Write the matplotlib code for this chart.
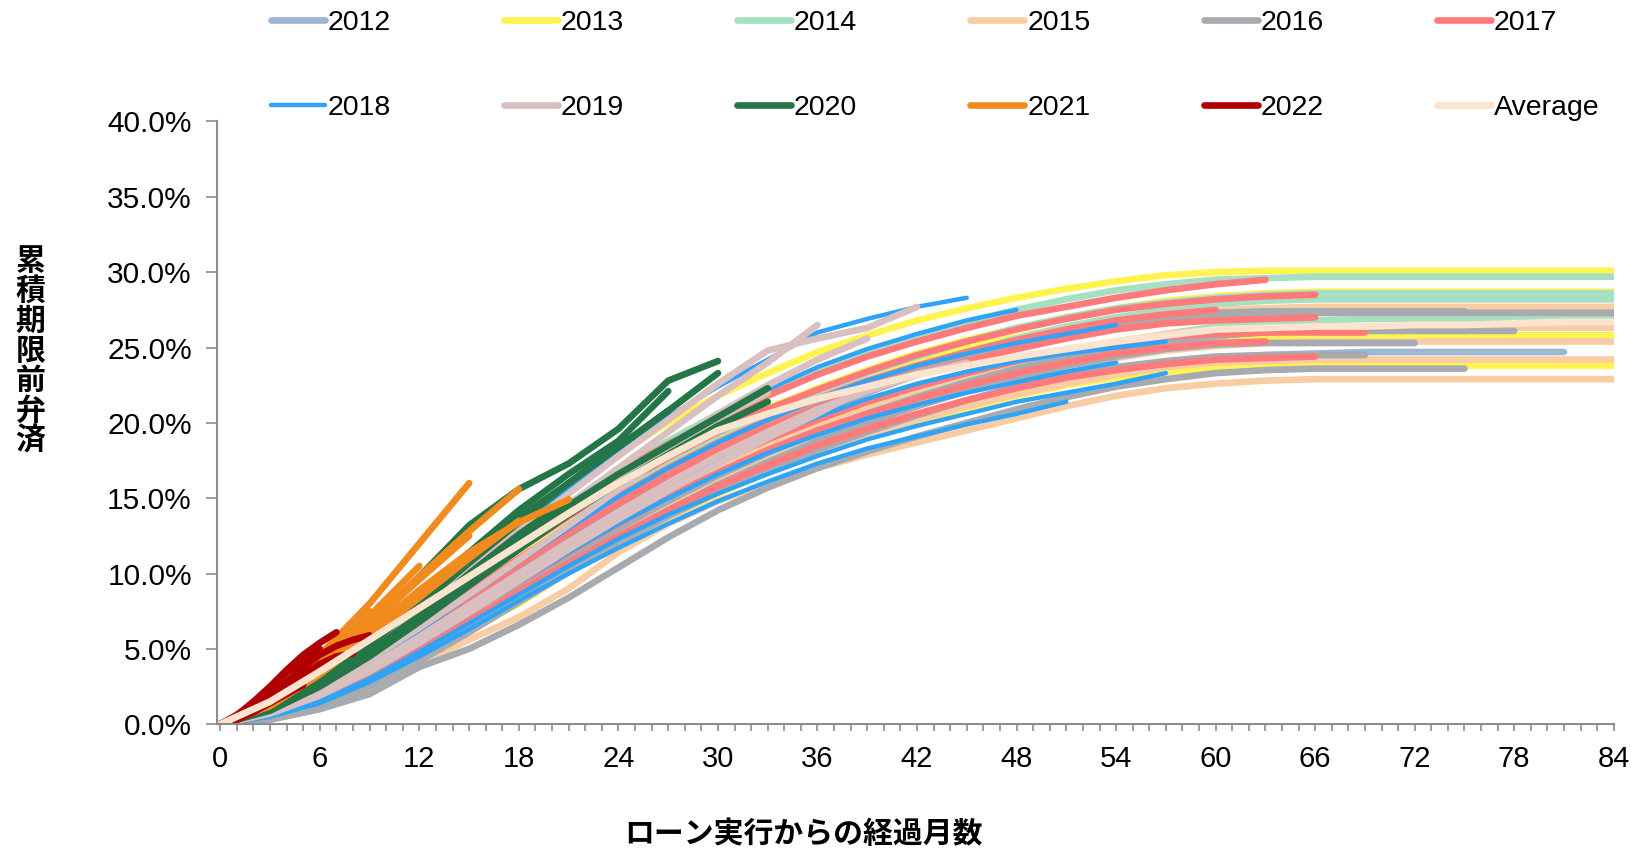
import numpy as np
import matplotlib.pyplot as plt
from matplotlib.lines import Line2D
from matplotlib.ticker import MultipleLocator, FuncFormatter

plt.rcParams['font.family'] = ['Liberation Sans', 'Noto Sans CJK JP', 'DejaVu Sans']

# cohort years, colours, months between points
YEARS = ['2012', '2013', '2014', '2015', '2016', '2017',
         '2018', '2019', '2020', '2021', '2022']
COLORS = ['#9db6d3', '#fff44f', '#a5e0c3', '#f9cda3', '#a7abb0', '#ff7b7b',
          '#2fa3f7', '#d9bfbf', '#247548', '#f28b1e', '#b00000']
STEP = [3, 3, 3, 3, 3, 3, 3, 3, 3, 3, 1]

# cumulative prepayment (%), one list per cohort
c2012 = [
    [0, 0.6, 1.8, 3.4, 5.2, 7.1, 8.9, 10.8, 12.6, 14.3, 15.8, 17.2, 18.4, 19.5, 20.4, 21.3, 22.1, 22.8, 23.4, 23.9, 24.3, 24.5, 24.6, 24.7, 24.7, 24.7, 24.7, 24.7],
    [0, 0.8, 2.2, 4.1, 6.1, 8.2, 10.2, 12.1, 13.9, 15.5, 17.0, 18.3, 19.5, 20.6, 21.6, 22.5, 23.3, 24.0, 24.6, 25.1, 25.5, 25.7, 25.8, 25.8, 25.8, 25.8, 25.8, 25.8, 25.8],
]
c2013 = [
    [0, 1.0, 2.9, 5.2, 7.8, 10.4, 13.0, 15.6, 18.0, 20.0, 21.8, 23.3, 24.7, 25.8, 26.8, 27.6, 28.3, 28.9, 29.4, 29.8, 30.0, 30.1, 30.1, 30.1, 30.1, 30.1, 30.1, 30.1, 30.1],
    [0, 0.8, 2.3, 4.2, 6.4, 8.8, 11.2, 13.5, 15.7, 17.6, 19.4, 20.9, 22.3, 23.5, 24.6, 25.5, 26.3, 27.0, 27.6, 28.1, 28.4, 28.6, 28.7, 28.7, 28.7, 28.7, 28.7, 28.7, 28.7],
    [0, 0.6, 1.8, 3.4, 5.3, 7.4, 9.4, 11.4, 13.3, 15.0, 16.6, 18.0, 19.3, 20.4, 21.4, 22.3, 23.1, 23.8, 24.4, 24.9, 25.3, 25.6, 25.7, 25.8, 25.8, 25.8, 25.8, 25.8, 25.8],
    [0, 0.4, 1.3, 2.6, 4.3, 6.3, 8.0, 10.1, 12.0, 13.7, 15.3, 16.7, 18.0, 19.1, 20.1, 21.0, 21.8, 22.5, 23.0, 23.4, 23.6, 23.7, 23.8, 23.8, 23.8, 23.8, 23.8, 23.8, 23.8],
    [0, 0.9, 2.5, 4.6, 7.0, 9.5, 11.9, 14.2, 16.2, 18.0, 19.6, 21.0, 22.2, 23.3, 24.2, 25.0, 25.7, 26.3, 26.8, 27.1, 27.3, 27.3, 27.3, 27.3, 27.3, 27.3, 27.3, 27.3, 27.3],
]
c2014 = [
    [0, 0.8, 2.4, 4.5, 7.0, 9.6, 12.1, 14.5, 16.8, 18.8, 20.6, 22.1, 23.5, 24.7, 25.8, 26.7, 27.5, 28.2, 28.8, 29.2, 29.5, 29.6, 29.7, 29.7, 29.7, 29.7, 29.7, 29.7, 29.7],
    [0, 0.7, 2.0, 3.9, 6.1, 8.5, 10.9, 13.2, 15.4, 17.3, 19.1, 20.6, 22.0, 23.3, 24.4, 25.4, 26.3, 27.0, 27.6, 28.0, 28.3, 28.5, 28.6, 28.6, 28.6, 28.6, 28.6, 28.6, 28.6],
    [0, 0.6, 1.7, 3.3, 5.3, 7.5, 9.8, 12.1, 14.3, 16.3, 18.1, 19.7, 21.2, 22.5, 23.7, 24.7, 25.6, 26.4, 27.0, 27.5, 27.9, 28.1, 28.2, 28.2, 28.2, 28.2, 28.2, 28.2, 28.2],
    [0, 0.5, 1.5, 3.0, 4.9, 7.0, 9.1, 11.2, 13.2, 15.0, 16.7, 18.2, 19.6, 20.8, 21.9, 22.9, 23.8, 24.6, 25.3, 25.9, 26.4, 26.7, 26.8, 26.9, 26.9, 26.9, 26.9, 26.9, 26.9],
]
c2015 = [
    [0, 0.3, 1.0, 2.2, 4.0, 5.6, 7.1, 9.0, 11.4, 13.3, 14.8, 16.0, 17.0, 17.9, 18.7, 19.5, 20.3, 21.1, 21.8, 22.3, 22.6, 22.8, 22.9, 22.9, 22.9, 22.9, 22.9, 22.9, 22.9],
    [0, 0.4, 1.3, 2.7, 4.4, 6.3, 8.2, 10.1, 12.0, 13.8, 15.4, 16.8, 18.1, 19.2, 20.2, 21.1, 21.9, 22.6, 23.2, 23.7, 24.0, 24.1, 24.2, 24.2, 24.2, 24.2, 24.2, 24.2, 24.2],
    [0, 0.5, 1.6, 3.1, 5.0, 7.0, 9.0, 11.0, 12.9, 14.7, 16.3, 17.8, 19.1, 20.3, 21.3, 22.2, 23.0, 23.7, 24.3, 24.8, 25.1, 25.3, 25.4, 25.4, 25.4, 25.4, 25.4, 25.4, 25.4],
    [0, 0.6, 1.9, 3.7, 5.8, 8.1, 10.4, 12.6, 14.7, 16.6, 18.3, 19.8, 21.2, 22.4, 23.5, 24.5, 25.4, 26.2, 26.8, 27.2, 27.5, 27.6, 27.7, 27.7, 27.7, 27.7, 27.7, 27.7, 27.7],
    [0, 0.5, 1.7, 3.3, 5.3, 7.4, 9.5, 11.6, 13.6, 15.4, 17.1, 18.6, 19.9, 21.1, 22.2, 23.2, 24.0, 24.8, 25.4, 25.9, 26.2, 26.3, 26.3, 26.3, 26.3, 26.3, 26.3, 26.3, 26.3],
]
c2016 = [
    [0, 0.5, 1.6, 3.2, 5.2, 7.4, 9.6, 11.8, 13.9, 15.8, 17.6, 19.2, 20.7, 22.0, 23.2, 24.2, 25.1, 25.8, 26.4, 26.8, 27.1, 27.2, 27.3, 27.3, 27.3, 27.3, 27.3, 27.3, 27.3],
    [0, 0.4, 1.4, 2.9, 4.7, 6.8, 8.9, 11.0, 13.0, 14.8, 16.5, 18.0, 19.4, 20.6, 21.7, 22.7, 23.6, 24.4, 25.0, 25.5, 25.8, 26.0, 26.1, 26.1, 26.1, 26.1, 26.1],
    [0, 0.3, 1.0, 2.0, 3.8, 5.0, 6.6, 8.4, 10.4, 12.4, 14.2, 15.7, 17.0, 18.1, 19.1, 20.0, 20.9, 21.7, 22.4, 22.9, 23.3, 23.5, 23.6, 23.6, 23.6, 23.6],
    [0, 0.4, 1.3, 2.7, 4.5, 6.5, 8.5, 10.5, 12.4, 14.2, 15.9, 17.4, 18.8, 20.0, 21.1, 22.1, 23.0, 23.8, 24.4, 24.9, 25.2, 25.3, 25.3, 25.3, 25.3],
    [0, 0.4, 1.2, 2.5, 4.2, 6.1, 8.1, 10.1, 12.0, 13.8, 15.4, 16.9, 18.2, 19.4, 20.5, 21.5, 22.4, 23.1, 23.7, 24.1, 24.4, 24.5, 24.5, 24.5],
    [0, 0.6, 1.8, 3.6, 5.7, 8.0, 10.3, 12.5, 14.6, 16.5, 18.3, 19.9, 21.3, 22.6, 23.7, 24.6, 25.4, 26.1, 26.6, 27.0, 27.3, 27.4, 27.4, 27.4, 27.4, 27.4],
]
c2017 = [
    [0, 2.0, 3.6, 5.6, 7.8, 10.1, 12.4, 14.6, 16.7, 18.6, 20.3, 21.8, 23.2, 24.4, 25.4, 26.3, 27.1, 27.7, 28.3, 28.8, 29.2, 29.5],
    [0, 1.2, 2.8, 4.8, 7.0, 9.3, 11.6, 13.8, 15.8, 17.7, 19.4, 20.9, 22.2, 23.4, 24.5, 25.4, 26.2, 26.9, 27.5, 27.9, 28.2, 28.4, 28.5],
    [0, 1.0, 2.6, 4.5, 6.6, 8.8, 11.0, 13.1, 15.1, 17.0, 18.7, 20.2, 21.6, 22.8, 23.8, 24.7, 25.5, 26.2, 26.8, 27.2, 27.5],
    [0, 0.9, 2.3, 4.1, 6.1, 8.3, 10.5, 12.6, 14.6, 16.5, 18.2, 19.7, 21.0, 22.2, 23.2, 24.1, 24.9, 25.6, 26.2, 26.6, 26.8, 26.9, 27.0],
    [0, 0.8, 2.1, 3.8, 5.8, 7.9, 10.0, 12.0, 13.9, 15.7, 17.4, 18.9, 20.2, 21.4, 22.4, 23.3, 24.1, 24.8, 25.3, 25.7, 25.9, 26.0, 26.0, 26.0],
    [0, 0.7, 1.9, 3.5, 5.4, 7.4, 9.4, 11.4, 13.3, 15.1, 16.7, 18.2, 19.5, 20.6, 21.6, 22.5, 23.3, 24.0, 24.6, 25.0, 25.3, 25.4],
    [0, 0.6, 1.7, 3.2, 5.0, 6.9, 8.8, 10.7, 12.5, 14.2, 15.8, 17.2, 18.5, 19.6, 20.6, 21.5, 22.3, 23.0, 23.5, 23.9, 24.2, 24.3, 24.4],
]
c2018 = [
    [0, 1.0, 2.8, 5.0, 7.5, 10.2, 12.9, 15.6, 18.1, 20.4, 22.4, 24.2, 26.0, 26.9, 27.7, 28.3],
    [0, 0.9, 2.5, 4.5, 6.8, 9.3, 11.8, 14.2, 16.5, 18.6, 20.5, 22.2, 23.7, 24.9, 25.9, 26.8, 27.5],
    [0, 0.8, 2.2, 4.0, 6.2, 8.5, 10.8, 13.0, 15.1, 17.0, 18.7, 20.2, 21.6, 22.8, 23.8, 24.6, 25.3, 25.9, 26.5],
    [0, 0.7, 2.0, 3.7, 5.7, 7.9, 10.1, 12.2, 14.2, 16.0, 17.6, 19.1, 20.4, 21.6, 22.6, 23.4, 24.1, 24.6, 25.0, 25.4],
    [0, 0.6, 1.8, 3.4, 5.3, 7.3, 9.4, 11.4, 13.3, 15.0, 16.6, 18.0, 19.2, 20.3, 21.2, 22.0, 22.7, 23.4, 24.0],
    [0, 0.5, 1.5, 3.0, 4.8, 6.7, 8.6, 10.5, 12.3, 13.9, 15.3, 16.6, 17.8, 18.9, 19.8, 20.6, 21.4, 22.0, 22.6, 23.3],
    [0, 0.5, 1.4, 2.8, 4.5, 6.3, 8.2, 10.0, 11.7, 13.3, 14.8, 16.1, 17.3, 18.3, 19.1, 19.9, 20.6, 21.4],
]
c2019 = [
    [0, 1.2, 3.0, 5.2, 7.7, 10.3, 12.8, 15.3, 17.8, 20.2, 22.6, 24.8, 25.6, 26.3, 27.7],
    [0, 1.1, 2.8, 4.9, 7.2, 9.7, 12.2, 14.6, 17.0, 19.4, 21.8, 24.0, 26.5],
    [0, 1.0, 2.6, 4.6, 6.8, 9.2, 11.6, 14.0, 16.3, 18.5, 20.6, 22.5, 24.2, 25.6],
    [0, 0.9, 2.4, 4.3, 6.4, 8.6, 10.9, 13.2, 15.6, 18.0, 20.3, 22.0],
    [0, 0.8, 2.1, 3.8, 5.8, 7.9, 10.0, 12.1, 14.1, 16.0, 17.8, 19.4, 20.9, 22.1, 23.2, 24.0],
    [0, 0.7, 1.9, 3.5, 5.4, 7.4, 9.5, 11.6, 13.6, 15.5, 17.3, 19.0, 20.6, 22.4],
]
c2020 = [
    [0, 1.4, 3.8, 6.6, 9.8, 13.2, 15.6, 17.3, 19.6, 22.8, 24.1],
    [0, 1.2, 3.1, 5.5, 8.2, 11.0, 13.7, 16.0, 18.4, 20.8],
    [0, 1.0, 2.7, 4.8, 7.2, 9.7, 12.2, 14.5, 16.6, 18.5, 20.4, 22.3],
    [0, 1.1, 3.0, 5.3, 7.9, 10.7, 13.4, 16.0, 18.4, 20.8, 23.3],
    [0, 0.9, 2.5, 4.5, 6.8, 9.2, 11.6, 13.9, 16.0, 17.9, 19.8, 21.4],
    [0, 1.0, 2.7, 4.8, 7.2, 10.0, 12.6, 14.9],
    [0, 1.2, 3.2, 5.7, 8.5, 11.4, 14.2, 16.6, 18.8, 22.1],
]
c2021 = [
    [0, 1.8, 4.6, 8.0, 12.0, 16.0],
    [0, 1.5, 4.0, 6.8, 9.8, 12.8, 15.6],
    [0, 1.3, 3.6, 6.2, 8.9, 11.4, 13.4, 14.9],
    [0, 1.6, 4.2, 7.2, 10.5],
    [0, 1.2, 3.3, 5.8, 8.4, 11.0, 13.5],
    [0, 1.4, 3.8, 6.6, 9.6, 12.5],
    [0, 1.7, 4.4, 7.5],
]
c2022 = [
    [0, 0.6, 1.5, 2.5, 3.6, 4.6, 5.4, 6.1],
    [0, 0.4, 1.1, 1.9, 2.8, 3.8, 4.6, 5.2, 5.6, 5.9],
    [0, 0.5, 1.3, 2.3, 3.4, 4.3, 5.0],
    [0, 0.3, 0.8, 1.4, 2.0, 2.6],
    [0, 0.3, 0.9, 1.6, 2.4, 3.3, 4.0, 4.5, 4.7],
]
average = [0, 1.5, 3.5, 5.6, 7.7, 9.8, 11.9, 14.0, 16.0, 17.8, 19.5, 20.6, 21.6, 22.4, 23.2,
           23.8, 24.4, 24.9, 25.4, 25.8, 26.2, 26.3, 26.4, 26.4, 26.5, 26.5, 26.6, 26.7, 26.7]
AVG_COLOR = '#fce4ce'

cohorts = [c2012, c2013, c2014, c2015, c2016, c2017, c2018, c2019, c2020, c2021, c2022]

fig = plt.figure(figsize=(16.4, 8.52), dpi=100)
ax = fig.add_axes([0.1323, 0.150, 0.8517, 0.7074])

handles = []
for year, color, step, lines in zip(YEARS, COLORS, STEP, cohorts):
    lw = 3.2 if year == '2018' else 4.8
    for vals in lines:
        months = np.arange(len(vals)) * step
        ax.plot(months, np.array(vals) / 100, color=color, lw=lw,
                solid_capstyle='round', solid_joinstyle='round')
    handles.append(Line2D([], [], color=color, lw=lw, solid_capstyle='round'))

ax.plot(np.arange(len(average)) * 3, np.array(average) / 100, color=AVG_COLOR, lw=5.0,
        solid_capstyle='round', solid_joinstyle='round')
handles.append(Line2D([], [], color=AVG_COLOR, lw=5.0, solid_capstyle='round'))
labels = YEARS + ['Average']

# axes
ax.set_xlim(-0.2, 84)
ax.set_ylim(0, 0.40)
for s in ['top', 'right']:
    ax.spines[s].set_visible(False)
for s in ['left', 'bottom']:
    ax.spines[s].set_color('#8c8c8c')
    ax.spines[s].set_linewidth(1.5)
ax.xaxis.set_major_locator(MultipleLocator(6))
ax.xaxis.set_minor_locator(MultipleLocator(1))
ax.yaxis.set_major_locator(MultipleLocator(0.05))
ax.yaxis.set_major_formatter(FuncFormatter(lambda v, p: f'{v * 100:.1f}%'))
ax.tick_params(axis='x', which='both', direction='out', length=5, width=1.2,
               color='#8c8c8c', pad=10, labelsize=21)
ax.tick_params(axis='y', direction='out', length=8, width=1.2,
               color='#8c8c8c', pad=10, labelsize=21.5)

# legend: 2 rows x 6 columns, filled row by row
order = [0, 6, 1, 7, 2, 8, 3, 9, 4, 10, 5, 11]
fig.legend([handles[i] for i in order], [labels[i] for i in order], ncol=6,
           loc='upper left', bbox_to_anchor=(0.165, 0.988), frameon=False,
           fontsize=20.5, handlelength=1.9, handletextpad=0.1, columnspacing=3.97,
           labelspacing=2.05, borderpad=0, borderaxespad=0)

fig.text(0.0185, 0.588, '\n'.join('累積期限前弁済'), fontsize=21.5, fontweight='bold',
         family=['Noto Sans CJK JP'], ha='center', va='center', linespacing=1.0)
fig.text(0.49, 0.021, 'ローン実行からの経過月数', fontsize=21.5, fontweight='bold',
         family=['Noto Sans CJK JP'], ha='center', va='center')

fig.savefig('out.png', dpi=100, facecolor='white')
